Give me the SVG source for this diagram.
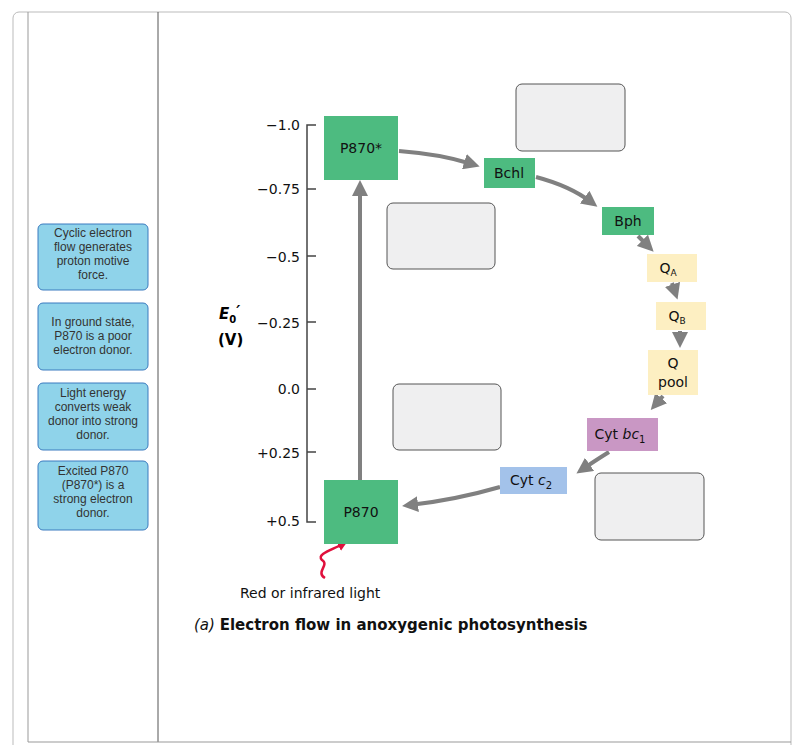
<svg xmlns="http://www.w3.org/2000/svg" width="805" height="745" viewBox="0 0 805 745">
<style>
.note{fill:#8fd3ea;stroke:#3a7bbf;stroke-width:1}
.nt{font:12px "Liberation Sans",Arial,sans-serif;fill:#333;text-anchor:middle}
.blank{fill:#efeff0;stroke:#555;stroke-width:1}
.lbl{font:14px "DejaVu Sans",Verdana,sans-serif;fill:#111;text-anchor:middle}
.ax{font:14px "DejaVu Sans",Verdana,sans-serif;fill:#111;text-anchor:end}
.arr{fill:none;stroke:#808080;stroke-width:4}
</style>
<defs>
<marker id="ah" markerWidth="4" markerHeight="4" refX="2" refY="2" orient="auto"><path d="M0,0L4,2L0,4Z" fill="#808080"/></marker>
<marker id="rh" markerWidth="4" markerHeight="4" refX="2" refY="2" orient="auto"><path d="M0,0L4,2L0,4Z" fill="#e0103c"/></marker>
</defs>
<rect x="0" y="0" width="805" height="745" fill="#fff"/>
<rect x="13" y="12" width="778" height="740" rx="6" fill="none" stroke="#bbb"/>
<line x1="28" y1="12" x2="28" y2="742" stroke="#999"/>
<line x1="158" y1="12" x2="158" y2="742" stroke="#555"/>
<line x1="28" y1="742" x2="791" y2="742" stroke="#999"/>
<g id="n1"><rect class="note" x="38" y="224" width="110" height="66" rx="5"/><text class="nt" y="237"><tspan x="93">Cyclic electron</tspan><tspan x="93" dy="14">flow generates</tspan><tspan x="93" dy="14">proton motive</tspan><tspan x="93" dy="14">force.</tspan></text></g>
<g id="n2"><rect class="note" x="38" y="303" width="110" height="67" rx="5"/><text class="nt" y="326"><tspan x="93">In ground state,</tspan><tspan x="93" dy="14">P870 is a poor</tspan><tspan x="93" dy="14">electron donor.</tspan></text></g>
<g id="n3"><rect class="note" x="38" y="383" width="110" height="67" rx="5"/><text class="nt" y="397"><tspan x="93">Light energy</tspan><tspan x="93" dy="14">converts weak</tspan><tspan x="93" dy="14">donor into strong</tspan><tspan x="93" dy="14">donor.</tspan></text></g>
<g id="n4"><rect class="note" x="38" y="461" width="110" height="69" rx="5"/><text class="nt" y="475"><tspan x="93">Excited P870</tspan><tspan x="93" dy="14">(P870*) is a</tspan><tspan x="93" dy="14">strong electron</tspan><tspan x="93" dy="14">donor.</tspan></text></g>
<g id="axis">
<path d="M316,125H307V522H316M307,189H316M307,256H316M307,322H316M307,389H316M307,452H316" fill="none" stroke="#444" stroke-width="1.5"/>
<text class="ax" x="300" y="130">−1.0</text>
<text class="ax" x="300" y="194">−0.75</text>
<text class="ax" x="300" y="262">−0.5</text>
<text class="ax" x="300" y="328">−0.25</text>
<text class="ax" x="300" y="394" font-weight="bold">0.0</text>
<text class="ax" x="300" y="458">+0.25</text>
<text class="ax" x="300" y="526">+0.5</text>
<text x="219" y="319" font-family="DejaVu Sans,sans-serif" font-size="15" font-weight="bold" font-style="italic">E<tspan font-size="10" dy="4" font-style="normal">0</tspan><tspan dy="-6">′</tspan></text>
<text x="218" y="345" font-family="DejaVu Sans,sans-serif" font-size="15" font-weight="bold">(V)</text>
</g>
<g id="connectors">
<line class="arr" x1="360" y1="480" x2="360" y2="188" marker-end="url(#ah)"/>
<path class="arr" d="M399,151Q440,154 472,164" marker-end="url(#ah)"/>
<path class="arr" d="M536,177Q570,186 591,202" marker-end="url(#ah)"/>
<path class="arr" d="M638,236L648,246" marker-end="url(#ah)"/>
<path class="arr" d="M672,283L675,292" marker-end="url(#ah)"/>
<path class="arr" d="M680,331L680,340" marker-end="url(#ah)"/>
<path class="arr" d="M663,396L656,404" marker-end="url(#ah)"/>
<path class="arr" d="M609,452Q593,462 583,469" marker-end="url(#ah)"/>
<path class="arr" d="M500,487Q455,500 410,505" marker-end="url(#ah)"/>
<path d="M325,578C315,572 330,565 322,560C316,554 332,550 343,544" fill="none" stroke="#e0103c" stroke-width="2.5" marker-end="url(#rh)"/>
</g>
<g id="p870s"><rect x="324" y="116" width="74" height="64" fill="#4dbb80"/><text class="lbl" x="361" y="153">P870*</text></g>
<g id="p870"><rect x="324" y="480" width="74" height="64" fill="#4dbb80"/><text class="lbl" x="361" y="517">P870</text></g>
<g id="bchl"><rect x="484" y="158" width="51" height="30" fill="#4dbb80"/><text class="lbl" x="509" y="178">Bchl</text></g>
<g id="bph"><rect x="602" y="207" width="52" height="28" fill="#4dbb80"/><text class="lbl" x="628" y="226">Bph</text></g>
<g id="qa"><rect x="647" y="254" width="50" height="28" fill="#fdefc2"/><text class="lbl" x="668" y="273">Q<tspan font-size="9" dy="3">A</tspan></text></g>
<g id="qb"><rect x="656" y="302" width="50" height="28" fill="#fdefc2"/><text class="lbl" x="677" y="321">Q<tspan font-size="9" dy="3">B</tspan></text></g>
<g id="qpool"><rect x="648" y="350" width="50" height="45" fill="#fdefc2"/><text class="lbl" x="673" y="368">Q</text><text class="lbl" x="673" y="387">pool</text></g>
<g id="cytbc1"><rect x="587" y="418" width="71" height="33" fill="#c997c4"/><text class="lbl" x="620" y="439">Cyt <tspan font-style="italic">bc</tspan><tspan font-size="10" dy="4">1</tspan></text></g>
<g id="cytc2"><rect x="500" y="467" width="67" height="27" fill="#a3c2ea"/><text class="lbl" x="531" y="485">Cyt <tspan font-style="italic">c</tspan><tspan font-size="10" dy="4">2</tspan></text></g>
<g id="b1"><rect class="blank" x="516" y="84" width="109" height="67" rx="6"/></g>
<g id="b2"><rect class="blank" x="387" y="203" width="108" height="66" rx="6"/></g>
<g id="b3"><rect class="blank" x="393" y="384" width="108" height="66" rx="6"/></g>
<g id="b4"><rect class="blank" x="595" y="473" width="109" height="67" rx="6"/></g>
<text x="240" y="598" font-family="DejaVu Sans,sans-serif" font-size="14" fill="#111">Red or infrared light</text>
<text x="194" y="630" font-family="DejaVu Sans,sans-serif" font-size="15" fill="#111"><tspan font-style="italic">(a)</tspan> <tspan font-weight="bold">Electron flow in anoxygenic photosynthesis</tspan></text>
</svg>
